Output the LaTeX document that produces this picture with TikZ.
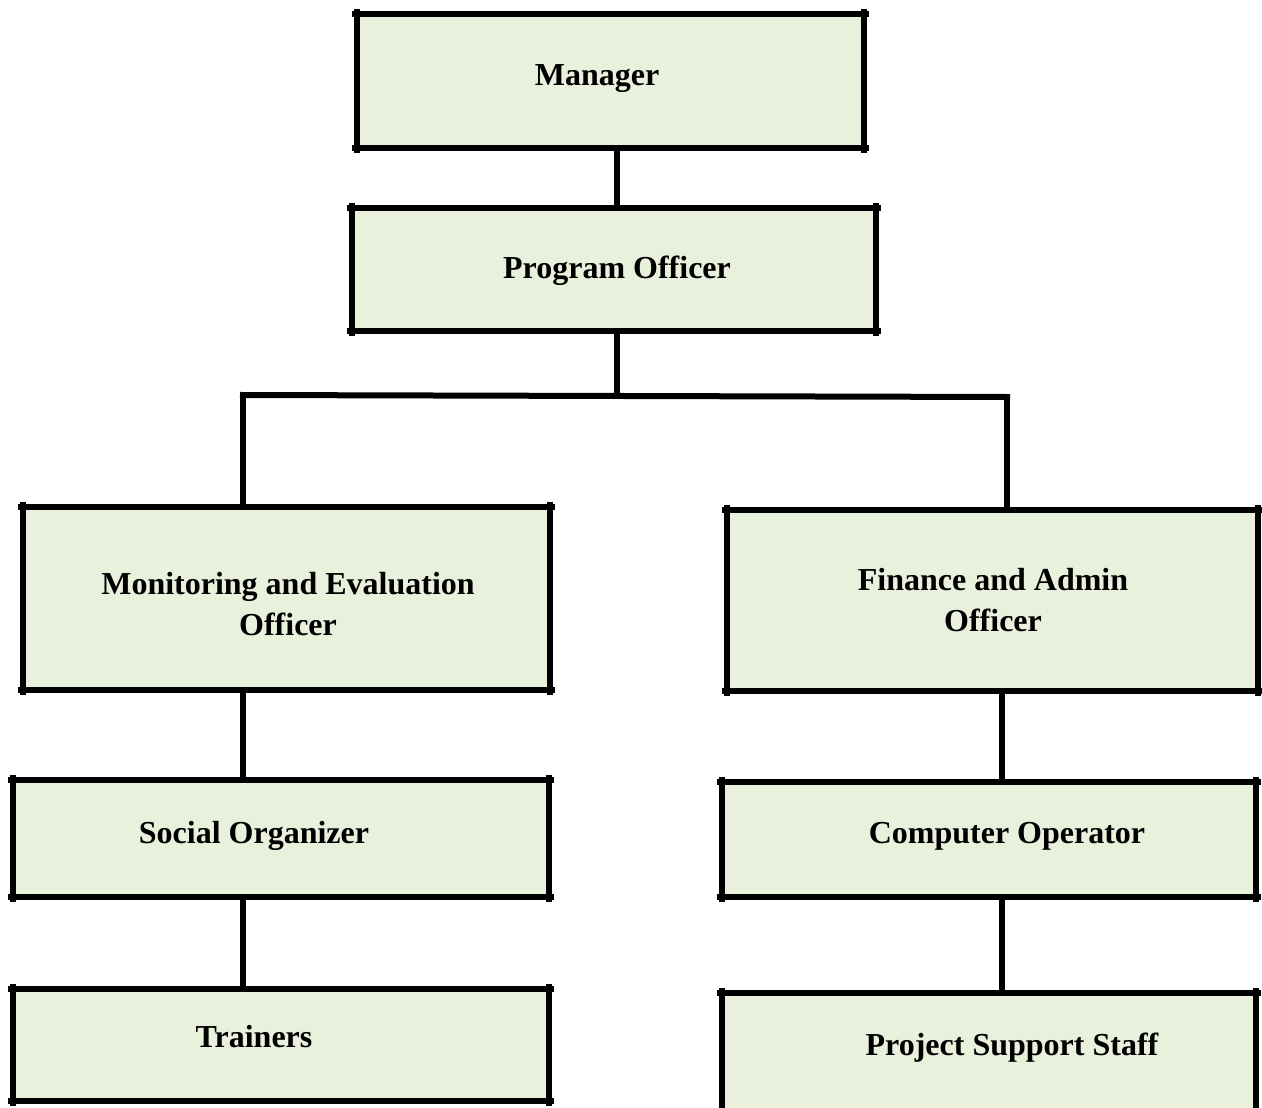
\documentclass[tikz,border=0pt]{standalone}
\usepackage{fontspec}
\setmainfont{Liberation Serif}
\usetikzlibrary{calc}
\definecolor{boxfill}{RGB}{233,240,220}
\tikzset{
  orgbox/.style={fill=boxfill, draw=none, inner sep=0pt},
  orgtext/.style={font=\fontsize{32}{41}\selectfont\bfseries, align=center, inner sep=0pt, text=black},
  edgeline/.style={line width=6.5pt, line cap=butt, shorten <=-5pt, shorten >=-5pt},
  link/.style={line width=6pt, line cap=butt}
}
\newcommand{\orgedges}[1]{%
  \draw[edgeline] (#1.north west) -- (#1.north east);
  \draw[edgeline] (#1.south west) -- (#1.south east);
  \draw[edgeline] (#1.north west) -- (#1.south west);
  \draw[edgeline] (#1.north east) -- (#1.south east);
}
\begin{document}
\begin{tikzpicture}[x=1pt,y=-1pt]
\clip (0,0) rectangle (1262,1108);
\fill[white] (0,0) rectangle (1262,1108);
% boxes
\node[orgbox, minimum width=507pt, minimum height=134pt] (mgr) at (610.5,81) {};
\node[orgbox, minimum width=524pt, minimum height=123pt] (po) at (614,269.5) {};
\node[orgbox, minimum width=527pt, minimum height=183pt] (me) at (286.5,598.5) {};
\node[orgbox, minimum width=531pt, minimum height=181pt] (fin) at (992.5,600.5) {};
\node[orgbox, minimum width=536pt, minimum height=117pt] (so) at (281,838.5) {};
\node[orgbox, minimum width=534pt, minimum height=115pt] (co) at (989,839.5) {};
\node[orgbox, minimum width=536pt, minimum height=112pt] (tr) at (281,1045) {};
\node[orgbox, minimum width=534pt, minimum height=140pt] (pss) at (989,1063) {};
\orgedges{mgr}
\orgedges{po}
\orgedges{me}
\orgedges{fin}
\orgedges{so}
\orgedges{co}
\orgedges{tr}
\orgedges{pss}
% texts
\node[orgtext] (tmgr) at (597,79) {Manager};
\node[orgtext] (tpo) at (617,271) {Program Officer};
\node[orgtext] (tme) at (288,604) {Monitoring and Evaluation\\Officer};
\node[orgtext] (tfin) at (993,600) {Finance and Admin\\Officer};
\node[orgtext] (tso) at (254,836) {Social Organizer};
\node[orgtext] (tco) at (1007,836) {Computer Operator};
\node[orgtext] (ttr) at (254,1037) {Trainers};
\node[orgtext] (tpss) at (1012,1048) {Project Support Staff};
% connectors
\coordinate (busM) at (617,395);
\coordinate (busL) at (243,395);
\coordinate (busR) at (1007,397);
\coordinate (colR) at (1002,0);
\draw[link] (mgr.south -| busM) -- (po.north -| busM);
\draw[link] (po.south -| busM) -- (busM);
\draw[link, line cap=rect] (busL) -- (busR);
\draw[link] (busL) -- (me.north -| busL);
\draw[link] (busR) -- (fin.north -| busR);
\draw[link] (me.south -| busL) -- (so.north -| busL);
\draw[link] (so.south -| busL) -- (tr.north -| busL);
\draw[link] (fin.south -| colR) -- (co.north -| colR);
\draw[link] (co.south -| colR) -- (pss.north -| colR);
\end{tikzpicture}
\end{document}
